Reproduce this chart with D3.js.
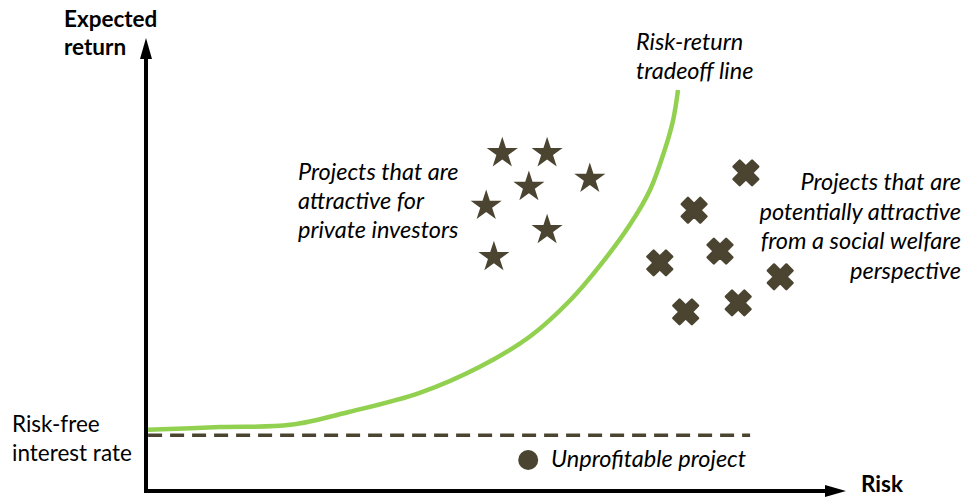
<!DOCTYPE html>
<html lang="en">
<head>
<meta charset="UTF-8">
<title>Risk-return tradeoff</title>
<script src="https://d3js.org/d3.v7.min.js"></script>
<style>
    body { margin: 0; background: #fff; font-family: Lato, "Open Sans", sans-serif; }
    svg { display: block; }
    .lbl { font-size: 22.5px; fill: #000; }
    .it { font-style: italic; font-size: 23.5px; }
    .bold { font-weight: 700; }
</style>
</head>
<body>
<div id="container"></div>
<script>
    // data (risk 0-100, return 0-100)
    const curveRisk   = [0.3, 10.6, 20.6, 29.1, 39.1, 47.7, 54.9, 60.6, 64.9, 69.1, 72.0, 74.1, 75.3, 76.0];
    const curveReturn = [13.6, 14.2, 14.7, 17.6, 21.8, 27.6, 34.4, 42.4, 50.2, 59.1, 66.9, 75.8, 82.4, 89.1];

    const starRisk   = [50.9, 57.3, 54.7, 63.4, 48.6, 57.3, 49.7];
    const starReturn = [75.3, 75.3, 67.8, 69.6, 63.6, 58.2, 52.2];

    const crossRisk   = [85.7, 78.3, 82.0, 73.4, 90.6, 84.6, 77.1];
    const crossReturn = [70.7, 62.4, 53.3, 50.7, 47.6, 41.8, 39.8];

    const unprofitable = { risk: 54.6, ret: 6.9 };
    const riskFreeRate = 12.4;
    const riskFreeEnd = 86.3;

    const W = 972, H = 498;
    const dark = '#4a4430';
    const green = '#92d050';

    const svg = d3.select('#container').append('svg')
        .attr('width', W).attr('height', H);

    const x = d3.scaleLinear().domain([0, 100]).range([146, 846]);
    const y = d3.scaleLinear().domain([0, 100]).range([491, 41]);

    // axes with arrows
    svg.append('line')
        .attr('x1', x(0)).attr('y1', y(0) + 2)
        .attr('x2', x(0)).attr('y2', y(100) + 14)
        .attr('stroke', '#000').attr('stroke-width', 4);
    svg.append('path')
        .attr('d', `M${x(0)},${y(100) - 3} L${x(0) - 6},${y(100) + 18} L${x(0) + 6},${y(100) + 18} Z`)
        .attr('fill', '#000');

    svg.append('line')
        .attr('x1', x(0) - 2).attr('y1', y(0))
        .attr('x2', x(100) - 14).attr('y2', y(0))
        .attr('stroke', '#000').attr('stroke-width', 4);
    svg.append('path')
        .attr('d', `M${x(100)},${y(0)} L${x(100) - 21},${y(0) - 6} L${x(100) - 21},${y(0) + 6} Z`)
        .attr('fill', '#000');

    // risk-free dashed line
    svg.append('line')
        .attr('x1', x(0.3)).attr('y1', y(riskFreeRate))
        .attr('x2', x(riskFreeEnd)).attr('y2', y(riskFreeRate))
        .attr('stroke', dark).attr('stroke-width', 3.5)
        .attr('stroke-dasharray', '14,8');

    // tradeoff curve
    const pts = curveRisk.map((r, i) => [r, curveReturn[i]]);
    svg.append('path')
        .datum(pts)
        .attr('d', d3.line().x(d => x(d[0])).y(d => y(d[1])).curve(d3.curveCatmullRom))
        .attr('fill', 'none')
        .attr('stroke', green)
        .attr('stroke-width', 4.5);

    // stars
    const star = d3.symbol().type(d3.symbolStar).size(300);
    svg.selectAll('.star')
        .data(starRisk.map((r, i) => [r, starReturn[i]]))
        .enter().append('path')
        .attr('class', 'star')
        .attr('d', star)
        .attr('transform', d => `translate(${x(d[0])},${y(d[1]) + 1})`)
        .attr('fill', dark);

    // crosses
    const cross = d3.symbol().type(d3.symbolCross).size(380);
    svg.selectAll('.cross')
        .data(crossRisk.map((r, i) => [r, crossReturn[i]]))
        .enter().append('path')
        .attr('class', 'cross')
        .attr('d', cross)
        .attr('transform', d => `translate(${x(d[0])},${y(d[1])}) rotate(45)`)
        .attr('fill', dark)
        .attr('stroke', dark)
        .attr('stroke-width', 2.5)
        .attr('stroke-linejoin', 'round');

    // unprofitable project
    svg.append('circle')
        .attr('cx', x(unprofitable.risk)).attr('cy', y(unprofitable.ret))
        .attr('r', 10).attr('fill', dark);

    // labels
    function label(lines, px, py, cls, anchor, lh) {
        const t = svg.append('text')
            .attr('class', 'lbl ' + cls)
            .attr('text-anchor', anchor || 'start');
        lines.forEach((s, i) => {
            t.append('tspan').attr('x', px).attr('y', py + i * (lh || 29)).text(s);
        });
    }

    label(['Expected', 'return'], 64, 27, 'bold', 'start', 28);
    label(['Risk'], 861, 492, 'bold');
    label(['Risk-free', 'interest rate'], 12, 432, '');
    label(['Risk-return', 'tradeoff line'], 636, 50, 'it', 'start', 29);
    label(['Projects that are', 'attractive for', 'private investors'], 298, 180, 'it', 'start', 29);
    label(['Projects that are', 'potentially attractive', 'from a social welfare', 'perspective'], 961, 190, 'it', 'end', 29.5);
    label(['Unprofitable project'], 551, 467, 'it');
</script>
</body>
</html>
